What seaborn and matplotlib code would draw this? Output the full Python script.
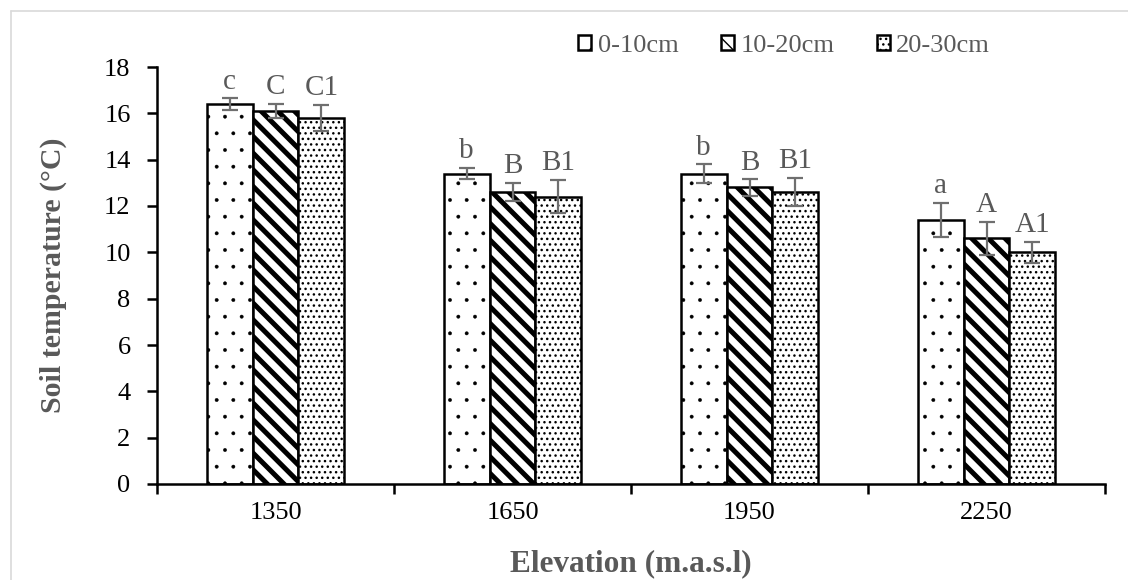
import matplotlib
matplotlib.use("Agg")
import matplotlib.pyplot as plt
from matplotlib.lines import Line2D
import seaborn as sns
import pandas as pd

# Mean soil temperature (°C) by elevation and soil depth
elevations = ["1350", "1650", "1950", "2250"]
depths = ["0-10cm", "10-20cm", "20-30cm"]
temp_0_10 = [16.4, 13.4, 13.4, 11.4]
temp_10_20 = [16.1, 12.6, 12.8, 10.6]
temp_20_30 = [15.8, 12.4, 12.6, 10.0]
# Standard errors
err_0_10 = [0.25, 0.25, 0.40, 0.75]
err_10_20 = [0.30, 0.40, 0.35, 0.70]
err_20_30 = [0.58, 0.72, 0.60, 0.45]
# Significance letters
letters_0_10 = ["c", "b", "b", "a"]
letters_10_20 = ["C", "B", "B", "A"]
letters_20_30 = ["C1", "B1", "B1", "A1"]

temps = [temp_0_10, temp_10_20, temp_20_30]
errs = [err_0_10, err_10_20, err_20_30]
letters = [letters_0_10, letters_10_20, letters_20_30]

df = pd.DataFrame({
    "elevation": [e for d in depths for e in elevations],
    "depth": [d for d in depths for _ in elevations],
    "temp": [v for series in temps for v in series],
})

sns.set_theme(style="white")
plt.rcParams["font.family"] = ["Liberation Serif", "DejaVu Serif"]

GREY = "#595959"
fig = plt.figure(figsize=(11.28, 5.8), dpi=100)
ax = fig.add_axes([157 / 1128, 96 / 580, 948 / 1128, 417 / 580])

sns.barplot(data=df, x="elevation", y="temp", hue="depth", order=elevations,
            hue_order=depths, palette=["white"] * 3, width=0.582, gap=0,
            edgecolor="black", linewidth=1.8, errorbar=None, legend=False, ax=ax)

hatches = [".", "\\\\", "..."]
hatch_lw = [0.3, 3.6, 1.0]
for cont, h, hl in zip(ax.containers, hatches, hatch_lw):
    for p in cont.patches:
        p.set_hatch(h)
        p.set_facecolor("white")
        p.set_edgecolor("black")
        if hasattr(p, "set_hatch_linewidth"):
            p.set_hatch_linewidth(hl)

# Error bars and significance letters above each bar
for cont, vals, es, labs in zip(ax.containers, temps, errs, letters):
    xs = [p.get_x() + p.get_width() / 2 for p in cont.patches]
    ax.errorbar(xs, vals, yerr=es, fmt="none", ecolor="#6f6f6f",
                elinewidth=1.6, capsize=5.5, capthick=1.6, zorder=5)
    for x, v, e, lab in zip(xs, vals, es, labs):
        ax.annotate(lab, (x, v + e), xytext=(0, 7), textcoords="offset points",
                    ha="center", va="baseline", fontsize=21, color=GREY)

ax.set_xlim(-0.5, 3.5)
ax.set_ylim(0, 18)
ax.set_yticks(range(0, 19, 2))
ax.set_xticks(range(len(elevations)))
ax.set_xticklabels(elevations)
ax.set_xticks([i - 0.5 for i in range(len(elevations) + 1)], minor=True)
ax.tick_params(axis="x", which="major", length=0, pad=13, labelsize=19, colors="black")
ax.tick_params(axis="x", which="minor", length=7, width=1.8, direction="out",
               bottom=True, color="black")
ax.tick_params(axis="y", length=7, width=1.8, direction="out", left=True,
               pad=12, labelsize=19, colors="black")
for s in ["top", "right"]:
    ax.spines[s].set_visible(False)
for s in ["left", "bottom"]:
    ax.spines[s].set_color("black")
    ax.spines[s].set_linewidth(1.8)

ax.set_xlabel("Elevation (m.a.s.l)", fontsize=22.5, fontweight="bold", color=GREY, labelpad=18)
ax.set_ylabel("Soil temperature (°C)", fontsize=21.5, fontweight="bold", color=GREY, labelpad=27)

leg = fig.legend(handles=list(ax.containers), labels=depths, loc="center",
                 bbox_to_anchor=(784 / 1128, 1 - 46 / 580), ncol=3, frameon=False,
                 fontsize=19, handlelength=0.5, handleheight=0.5,
                 handletextpad=0.25, columnspacing=1.6, labelcolor=GREY)

# Chart area outline
fig.add_artist(Line2D([11 / 1128, 11 / 1128], [-0.05, 1 - 11 / 580],
                      transform=fig.transFigure, color="#d9d9d9", lw=1.2))
fig.add_artist(Line2D([11 / 1128, 1.05], [1 - 11 / 580, 1 - 11 / 580],
                      transform=fig.transFigure, color="#d9d9d9", lw=1.2))

fig.savefig("out.png", dpi=100, facecolor="white")
